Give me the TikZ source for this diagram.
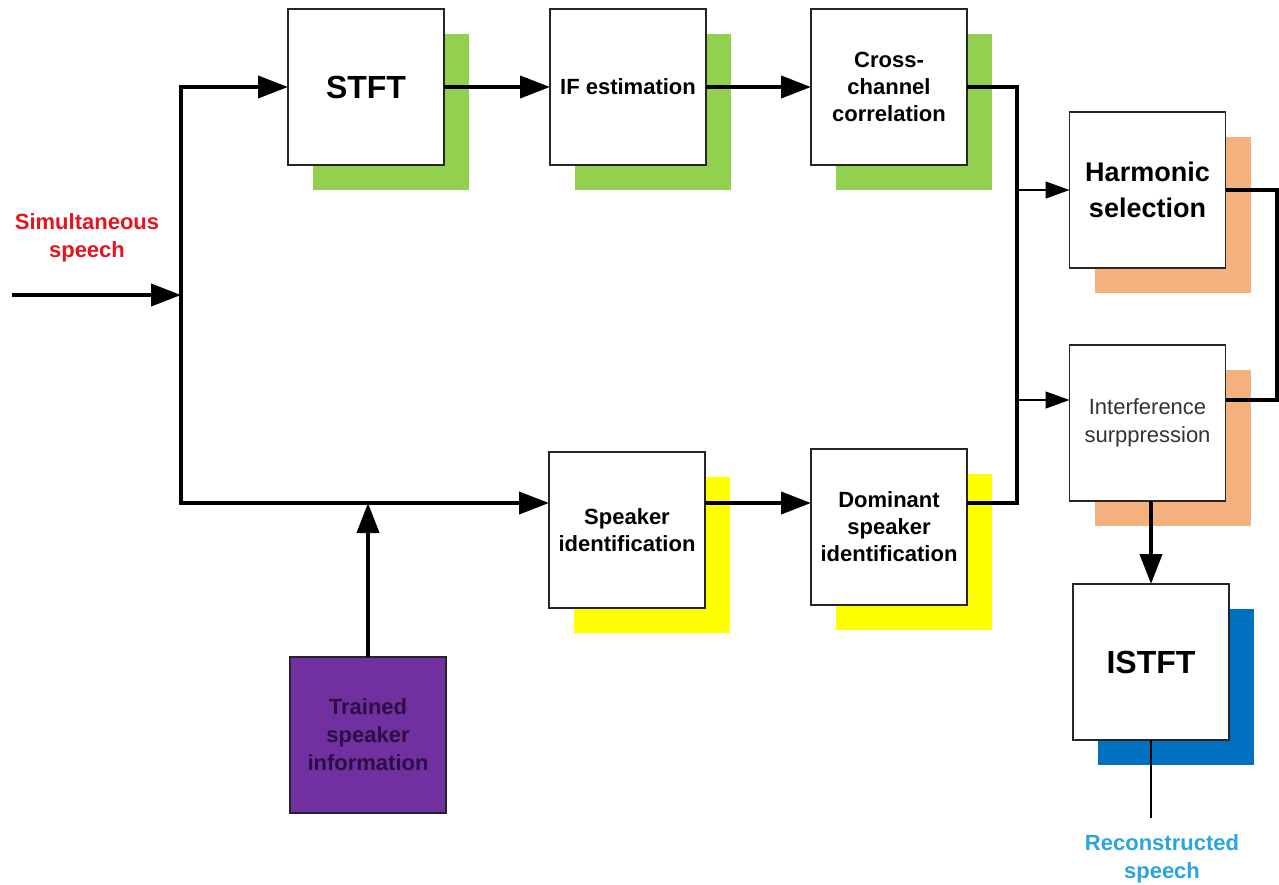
\documentclass[tikz,border=0pt]{standalone}
\usepackage{fontspec}
\setmainfont{Liberation Sans}
\usetikzlibrary{arrows.meta,shadows}
\definecolor{cgreen}{HTML}{92D050}
\definecolor{corange}{HTML}{F4B17E}
\definecolor{cyellow}{HTML}{FFFF00}
\definecolor{cblue}{HTML}{0070C0}
\definecolor{cpurple}{HTML}{7030A0}
\definecolor{cpurpletext}{HTML}{2A0E45}
\definecolor{cred}{HTML}{E5141E}
\definecolor{ccyan}{HTML}{2AA6DC}
\begin{document}
\begin{tikzpicture}[x=1pt,y=-1pt,
  blk/.style={draw=black!85, line width=1.2pt, fill=white, minimum width=156pt, minimum height=156pt,
    inner sep=0pt, outer sep=0pt, align=center, font=\bfseries\fontsize{22}{27}\selectfont},
  shad/.style={general shadow={fill=#1, shadow xshift=25pt, shadow yshift=-25pt}},
  thk/.style={line width=4pt},
  thkarrow/.style={line width=4pt, -{Triangle[length=30pt,width=22pt]}},
  thinarrow/.style={line width=1.3pt, -{Triangle[length=24pt,width=17pt]}},
  lbl/.style={align=center, font=\bfseries\fontsize{22}{28}\selectfont, inner sep=0pt}]
\useasboundingbox (0,0) rectangle (1279,884);

% blocks
\node[blk, shad=cgreen, font=\bfseries\fontsize{32}{36}\selectfont] (stft) at (366,87) {STFT};
\node[blk, shad=cgreen] (ife) at (628,87) {IF estimation};
\node[blk, shad=cgreen] (ccc) at (889,87) {Cross-\\channel\\correlation};
\node[blk, shad=corange, font=\bfseries\fontsize{27}{36}\selectfont] (harm) at (1147.5,190) {Harmonic\\selection};
\node[blk, shad=corange, font=\fontsize{22}{28}\selectfont, text=black!80] (intf) at (1147.5,423) {Interference\\surppression};
\node[blk, shad=cyellow] (spk) at (627,530) {Speaker\\identification};
\node[blk, shad=cyellow] (dom) at (889,527) {Dominant\\speaker\\identification};
\node[blk, shad=cblue, font=\bfseries\fontsize{32}{36}\selectfont] (istft) at (1151,662) {ISTFT};
\node[blk, fill=cpurple, text=cpurpletext, font=\bfseries\fontsize{22}{28}\selectfont] (trained) at (368,735) {Trained\\speaker\\information};

% labels
\node[lbl, text=cred] (sim) at (87,238) {Simultaneous\\speech};
\node[lbl, text=ccyan] (rec) at (1162,859) {Reconstructed\\speech};

% coordinates
\coordinate (src) at (12,295);
\coordinate (jin) at (181,295);
\coordinate (tl) at (181,87);
\coordinate (bus) at (181,503);
\coordinate (mt) at (1017,87);
\coordinate (mb) at (1017,503);
\coordinate (ha) at (1017,190);
\coordinate (ia) at (1017,400);
\coordinate (rt) at (1277,190);
\coordinate (rb) at (1277,400);
\coordinate (out) at (1151,818);

% connectors
\draw[thkarrow] (src) -- (jin);
\draw[thkarrow] (bus) -- (tl) -- (stft.west);
\draw[thkarrow] (tl) -- (bus) -- (spk.west |- bus);
\draw[thkarrow] (trained.north) -- (trained.north |- bus);
\draw[thkarrow] (stft.east) -- (ife.west);
\draw[thkarrow] (ife.east) -- (ccc.west);
\draw[thkarrow] (spk.east |- bus) -- (dom.west |- bus);
\draw[thk, line join=miter] (ccc.east) -- (mt) -- (mb) -- (dom.east |- mb);
\draw[thinarrow] (ha) -- (harm.west |- ha);
\draw[thinarrow] (ia) -- (intf.west |- ia);
\draw[thk, line join=miter] (harm.east |- rt) -- (rt) -- (rb) -- (intf.east |- rb);
\draw[thkarrow] (istft.north |- intf.south) -- (istft.north);
\draw[line width=1.3pt] (istft.south) -- (out);
\end{tikzpicture}
\end{document}
